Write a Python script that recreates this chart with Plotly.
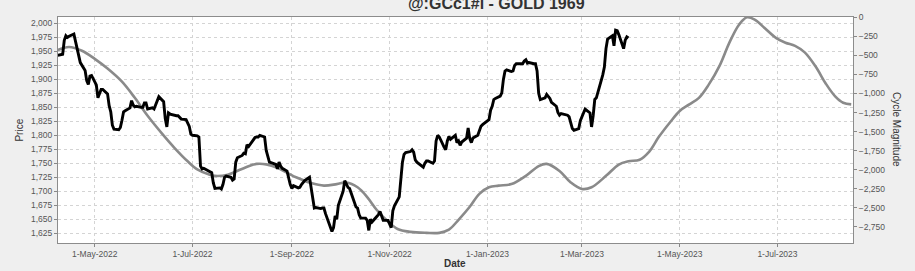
import pandas as pd
import plotly.graph_objects as go

# ---------------- data ----------------
price_start = "2022-04-08"
price_values = [
    1943, 1945, 1970, 1978, 1975, 1977, 1981, 1968, 1955, 1942,
    1930, 1916, 1898, 1891, 1906, 1907, 1890, 1867, 1874, 1882,
    1882, 1874, 1853, 1842, 1818, 1811, 1810, 1814, 1827, 1842,
    1844, 1849, 1862, 1854, 1851, 1852, 1850, 1850, 1858, 1858,
    1847, 1849, 1847, 1854, 1863, 1869, 1860, 1830, 1815, 1840,
    1838, 1835, 1835, 1835, 1832, 1829, 1828, 1822, 1816, 1802,
    1800, 1799, 1797, 1745, 1740, 1741, 1736, 1734, 1733, 1715,
    1705, 1706, 1704, 1712, 1725, 1727, 1725, 1720, 1722, 1752,
    1760, 1764, 1768, 1767, 1783, 1780, 1791, 1796, 1797, 1797,
    1800, 1797, 1773, 1760, 1752, 1751, 1748, 1740, 1752, 1745,
    1741, 1736, 1722, 1712, 1705, 1710, 1706, 1707, 1712, 1716,
    1719, 1725, 1705, 1682, 1670, 1671, 1669, 1670, 1670, 1660,
    1652, 1628, 1635, 1656, 1650, 1675, 1700, 1719, 1713, 1707,
    1705, 1680, 1672, 1670, 1658, 1652, 1652, 1648, 1630, 1650,
    1645, 1655, 1658, 1664, 1654, 1648, 1648, 1642, 1635, 1665,
    1674, 1690, 1725, 1752, 1766, 1769, 1771, 1774, 1770, 1756,
    1752, 1744, 1743, 1750, 1754, 1754, 1750, 1754, 1790, 1800,
    1797, 1779, 1774, 1790, 1798, 1793, 1800, 1787, 1790, 1782,
    1788, 1795, 1813, 1794, 1787, 1795, 1800, 1808, 1816, 1819,
    1821, 1828, 1845, 1852, 1864, 1866, 1870, 1876, 1900, 1915,
    1917, 1914, 1915, 1925, 1928, 1928, 1928, 1933, 1935, 1929,
    1930, 1928, 1928, 1915, 1875, 1864, 1867, 1873, 1869, 1866,
    1859, 1852, 1841, 1836, 1839, 1838, 1836, 1833, 1824, 1812,
    1809, 1812, 1826, 1833, 1840, 1847, 1840, 1815, 1835, 1864,
    1867, 1896, 1908, 1922, 1955, 1972, 1978, 1960, 1988, 1987,
    1980, 1955, 1970, 1976, 1974,
]
price_dates = pd.bdate_range(price_start, periods=len(price_values))

cycle_dates = [
    "2022-04-08", "2022-04-15", "2022-04-23", "2022-05-01", "2022-05-09",
    "2022-05-18", "2022-05-26", "2022-06-03", "2022-06-12", "2022-06-20",
    "2022-06-28", "2022-07-04", "2022-07-11", "2022-07-15", "2022-07-23",
    "2022-07-31", "2022-08-08", "2022-08-10", "2022-08-16", "2022-08-23",
    "2022-08-29", "2022-09-04", "2022-09-13", "2022-09-21", "2022-09-29",
    "2022-10-05", "2022-10-12", "2022-10-18", "2022-10-24", "2022-10-31",
    "2022-11-06", "2022-11-14", "2022-11-24", "2022-12-02", "2022-12-08",
    "2022-12-14", "2022-12-21", "2022-12-27", "2023-01-02", "2023-01-08",
    "2023-01-16", "2023-01-25", "2023-02-02", "2023-02-07", "2023-02-15",
    "2023-02-22", "2023-03-01", "2023-03-07", "2023-03-16", "2023-03-24",
    "2023-03-30", "2023-04-06", "2023-04-12", "2023-04-18", "2023-04-25",
    "2023-05-01", "2023-05-07", "2023-05-13", "2023-05-19", "2023-05-26",
    "2023-06-01", "2023-06-07", "2023-06-12", "2023-06-17", "2023-06-23",
    "2023-06-30", "2023-07-06", "2023-07-12", "2023-07-18", "2023-07-25",
    "2023-07-31", "2023-08-06", "2023-08-11", "2023-08-16",
]
cycle_values = [
    -430, -390, -439, -545, -673,
    -845, -1057, -1293, -1527, -1719,
    -1890, -1997, -2061, -2081, -2065,
    -1997, -1933, -1924, -1930, -1975,
    -2039, -2103, -2176, -2209, -2189,
    -2167, -2231, -2359, -2529, -2679,
    -2778, -2816, -2829, -2829, -2786,
    -2658, -2487, -2317, -2231, -2209,
    -2189, -2081, -1953, -1924, -2017,
    -2167, -2253, -2231, -2081, -1933,
    -1890, -1869, -1762, -1569, -1377,
    -1229, -1143, -1057, -887, -631,
    -333, -97, 0, -34, -141,
    -269, -333, -375, -461, -653,
    -865, -1037, -1121, -1143,
]

title_text = "@:GCc1#l - GOLD 1969"
x_tick_dates = ["2022-05-01", "2022-07-01", "2022-09-01", "2022-11-01",
                "2023-01-01", "2023-03-01", "2023-05-01", "2023-07-01"]
price_ticks = list(range(1625, 2001, 25))
cycle_ticks = list(range(-2750, 1, 250))

# ---------------- figure ----------------
FONT = "Liberation Sans, Arial, sans-serif"
fig = go.Figure()

fig.add_trace(go.Scatter(
    x=cycle_dates, y=cycle_values, mode="lines", yaxis="y",
    line=dict(color="#8a8a8a", width=2.6, shape="spline", smoothing=1.0),
    showlegend=False, hoverinfo="skip",
))
fig.add_trace(go.Scatter(
    x=price_dates, y=price_values, mode="lines", yaxis="y2",
    line=dict(color="#000000", width=2.9),
    showlegend=False, hoverinfo="skip",
))

tickfont = dict(family=FONT, size=8.5, color="#555555")

fig.update_layout(
    width=915, height=271,
    margin=dict(l=58, r=62, t=14, b=26),
    paper_bgcolor="#efefef",
    plot_bgcolor="#ffffff",
    showlegend=False,
    xaxis=dict(
        type="date",
        range=["2022-04-08 02:00", "2023-08-17 03:00"],
        tickvals=x_tick_dates,
        tickformat="%-d-%b-%Y",
        tickfont=tickfont,
        ticks="outside", ticklen=3, tickcolor="#888888",
        showgrid=True, gridcolor="#d4d4d4", griddash="dot", gridwidth=1,
        showline=True, linecolor="#8c8c8c", linewidth=1, mirror=True,
        zeroline=False,
    ),
    yaxis=dict(
        side="right",
        range=[-2962, 4],
        tickvals=cycle_ticks,
        tickformat=",d",
        tickfont=tickfont,
        ticks="outside", ticklen=3, tickcolor="#888888",
        showgrid=False, zeroline=False,
        showline=True, linecolor="#8c8c8c", linewidth=1,
    ),
    yaxis2=dict(
        side="left", overlaying="y",
        range=[1607.5, 2011.5],
        tickvals=price_ticks,
        tickformat=",d",
        tickfont=tickfont,
        ticks="outside", ticklen=3, tickcolor="#888888",
        showgrid=True, gridcolor="#d4d4d4", griddash="dot", gridwidth=1,
        zeroline=False,
        showline=True, linecolor="#8c8c8c", linewidth=1,
    ),
)

ann_font = dict(family=FONT, size=10, color="#333333")
fig.add_annotation(text=title_text, xref="paper", yref="paper",
                   x=0.552, y=1.013, xanchor="center", yanchor="bottom",
                   showarrow=False,
                   font=dict(family=FONT, size=16, color="#333333", weight="bold"))
fig.add_annotation(text="Price", xref="paper", yref="paper",
                   x=-0.0478, y=0.502, xanchor="center", yanchor="middle",
                   textangle=-90, showarrow=False, font=ann_font)
fig.add_annotation(text="Cycle Magnitude", xref="paper", yref="paper",
                   x=1.0547, y=0.502, xanchor="center", yanchor="middle",
                   textangle=90, showarrow=False, font=ann_font)
fig.add_annotation(text="Date", xref="paper", yref="paper",
                   x=0.4994, y=-0.092, xanchor="center", yanchor="middle",
                   showarrow=False, font=dict(family=FONT, size=10, color="#333333", weight="bold"))

fig.write_html("out.html")
